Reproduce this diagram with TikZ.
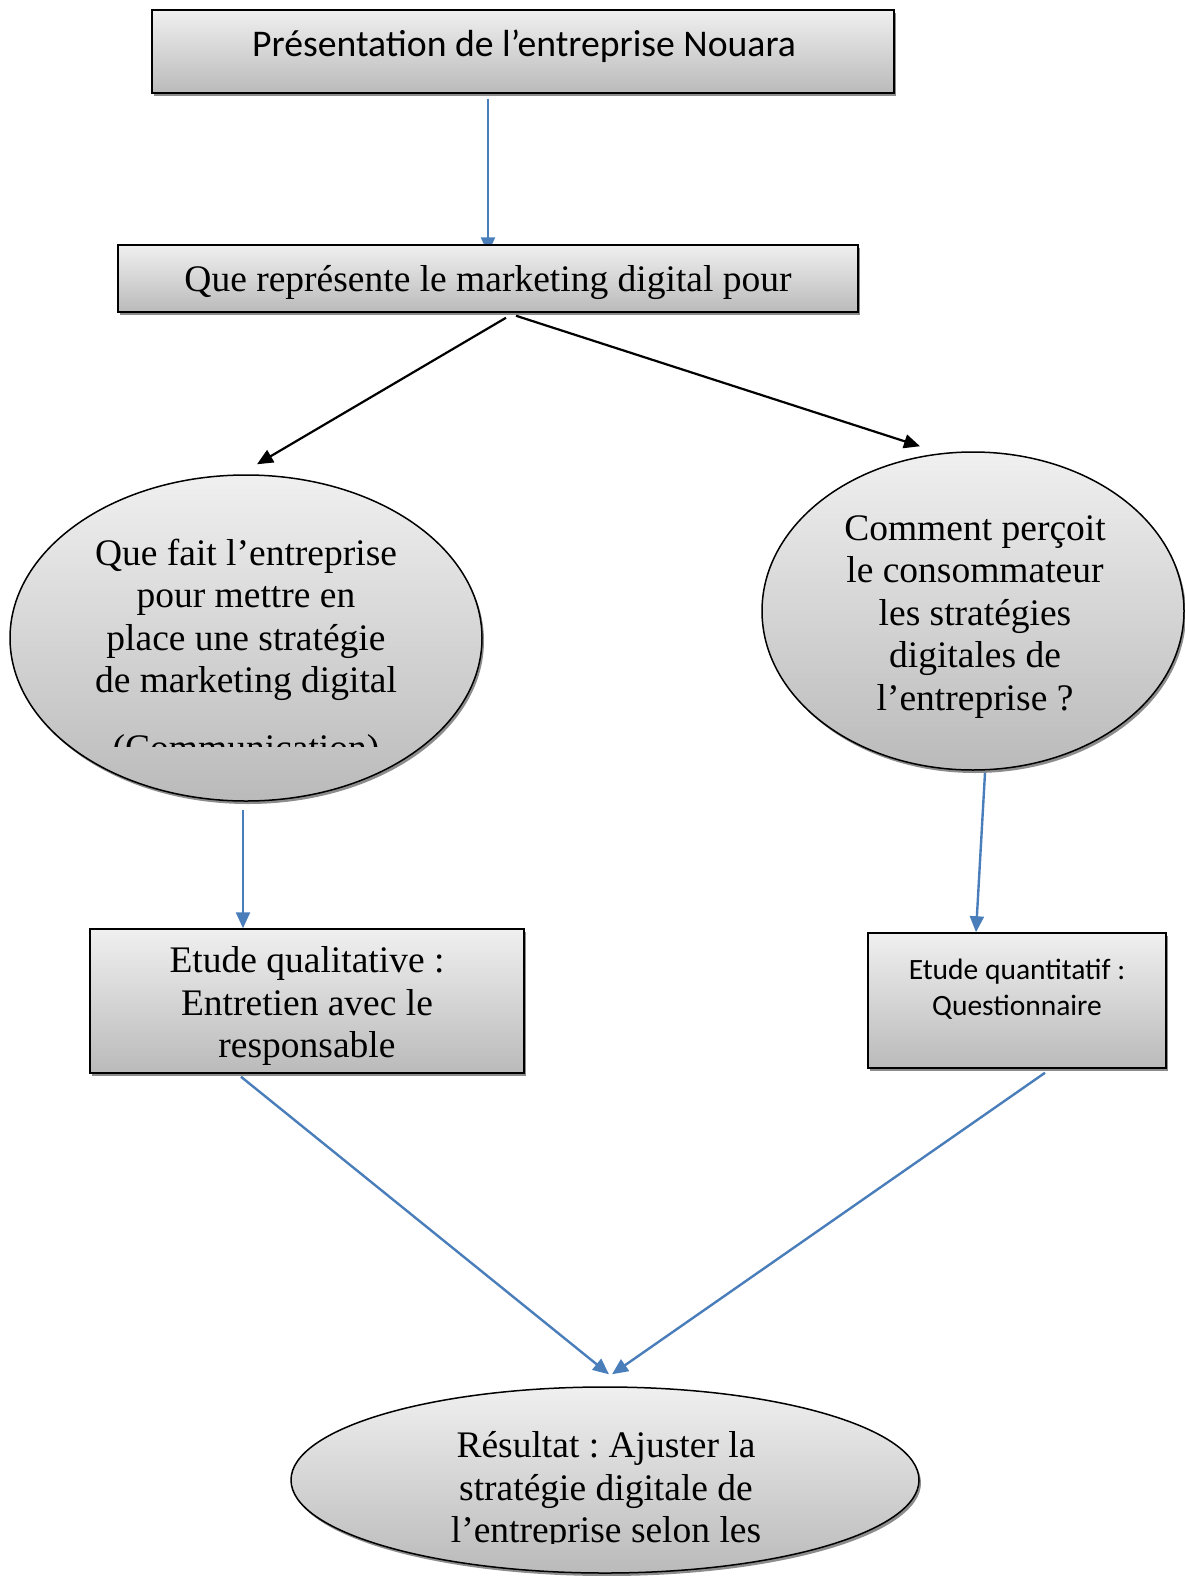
\documentclass[tikz,border=0pt]{standalone}
\usepackage{fontspec}
\setmainfont{Liberation Serif}
\newfontfamily\calibri{Carlito}
\usetikzlibrary{shapes.geometric}
\usetikzlibrary{arrows.meta}
\usetikzlibrary{shadows}
\usetikzlibrary{backgrounds}
\definecolor{linkblue}{HTML}{4A7EBB}
\frenchspacing

\begin{document}
\begin{tikzpicture}[x=1pt, y=-1pt,
    panel/.style={draw=black, line width=1.5pt, top color=black!6, bottom color=black!27,
        drop shadow={shadow xshift=2pt, shadow yshift=-3pt, fill=black!45, opacity=1}, inner sep=0pt},
    boxshape/.style={panel, rectangle},
    ovalshape/.style={panel, ellipse},
    label/.style={align=center, anchor=base, inner sep=0pt},
    serif/.style={label, font=\fontsize{37.5}{42.5}\selectfont},
    bluelink/.style={linkblue, line width=2.4pt, -{Triangle[length=16pt, width=14pt]}},
    blacklink/.style={black, line width=2.2pt, -{Triangle[length=16pt, width=14pt]}}]
    \useasboundingbox (0,0) rectangle (1184,1576);

    \node[boxshape, minimum width=742pt, minimum height=83pt] (pres) at (523,51.5) {};
    \node[boxshape, minimum width=740pt, minimum height=67pt] (qmd) at (488,278.5) {};
    \node[ovalshape, minimum width=472pt, minimum height=326pt] (lell) at (246,638) {};
    \node[ovalshape, minimum width=422pt, minimum height=318pt] (rell) at (973,611) {};
    \node[boxshape, minimum width=434pt, minimum height=144pt] (lrect) at (307,1001) {};
    \node[boxshape, minimum width=298pt, minimum height=135pt] (rrect) at (1017,1000.5) {};
    \node[ovalshape, minimum width=628pt, minimum height=186pt] (bell) at (605,1480) {};

    \node[label, font=\calibri\fontsize{37.7}{43}\selectfont] (ptxt) at (524,57) {Présentation de l’entreprise Nouara};
    \node[serif] (qtxt) at (488,291) {Que représente le marketing digital pour};
    \begin{scope}
        \clip (0,0) rectangle (1184,746);
        \node[serif] (ltxt) at (246,760) {Que fait l’entreprise\\pour mettre en\\place une stratégie\\de marketing digital\\[25pt](Communication)};
    \end{scope}
    \node[serif] (rtxt) at (975,710) {Comment perçoit\\le consommateur\\les stratégies\\digitales de\\l’entreprise ?};
    \node[serif] (lrtxt) at (307,1057.5) {Etude qualitative :\\Entretien avec le\\responsable};
    \node[label, font=\calibri\fontsize{29.5}{36}\selectfont] (rrtxt) at (1017,1015) {Etude quantitatif :\\Questionnaire};
    \begin{scope}
        \clip (0,0) rectangle (1184,1543);
        \node[serif] (btxt) at (606,1542.5) {Résultat : Ajuster la\\stratégie digitale de\\l’entreprise selon les};
    \end{scope}

    \begin{scope}[on background layer]
        \draw[bluelink] ([yshift=-5pt]qmd.north |- pres.south) -- ([yshift=-9pt]qmd.north);
    \end{scope}
    \draw[blacklink] ([xshift=18pt, yshift=-5pt]qmd.south) -- ([xshift=11pt, yshift=10pt]lell.north);
    \draw[blacklink] ([xshift=28pt, yshift=-3pt]qmd.south) -- ([xshift=-53pt, yshift=5pt]rell.north);
    \draw[bluelink] ([xshift=-3pt, yshift=-8pt]lell.south) -- ([xshift=-3pt]lell.south |- lrect.north);
    \draw[bluelink] ([xshift=12pt, yshift=-2pt]rell.south) -- ([xshift=-41pt]rrect.north);
    \draw[bluelink] ([xshift=-66pt, yshift=-3pt]lrect.south) -- ([xshift=4pt, yshift=12pt]bell.north);
    \draw[bluelink] ([xshift=28pt, yshift=-4pt]rrect.south) -- ([xshift=7pt, yshift=12pt]bell.north);
\end{tikzpicture}
\end{document}
